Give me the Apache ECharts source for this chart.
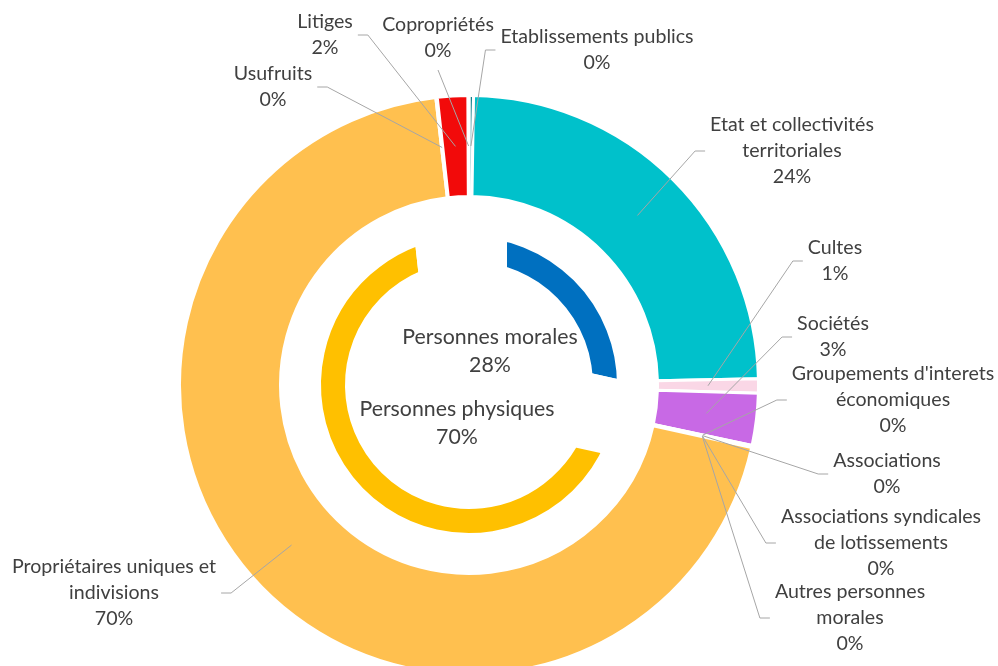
<!DOCTYPE html>
<html>
<head>
<meta charset="utf-8">
<script src="https://cdn.jsdelivr.net/npm/echarts@6/dist/echarts.min.js"></script>
<style>
  html, body { margin: 0; padding: 0; background: #fff; }
  #chart-container { width: 998px; height: 666px; }
</style>
</head>
<body>
<div id="chart-container"></div>
<script>
// outer ring: detail of owners (share in %)
var categories = [
  'Etablissements publics',
  'Etat et collectivités\nterritoriales',
  'Cultes',
  'Sociétés',
  "Groupements d'interets\néconomiques",
  'Associations',
  'Associations syndicales\nde lotissements',
  'Autres personnes\nmorales',
  'Propriétaires uniques et\nindivisions',
  'Usufruits',
  'Litiges',
  'Copropriétés'
];
var shares = [0.25, 24.4, 0.8, 2.9, 0.03, 0.03, 0.03, 0.03, 69.7, 0.08, 1.7, 0.05];

// inner ring: groups
var groups = ['Personnes morales', 'Personnes physiques', 'Autres'];
var groupShares = [28.47, 69.78, 1.75];

var sliceColors = ['#127F8A', '#00C1CB', '#FAD7E6', '#C869E5', '#8FAADC', '#A9D18E',
  '#F4B183', '#BDD7EE', '#FFC04F', '#C9C9C9', '#F20A0A', '#D9D9D9'];
var groupColors = ['#0070C0', '#FFC000', 'rgba(0,0,0,0)'];

var center = [469, 385];
// label block centres and which side the leader line attaches to
var labelSpots = [
  [597, 50, 'left'], [792, 151, 'left'], [835, 261, 'left'], [833, 337, 'left'],
  [893, 400, 'left'], [887, 474, 'left'], [881, 543, 'left'], [850, 618, 'left'],
  [114, 593, 'right'], [273, 87, 'right'], [325, 35, 'right'], [438, 38, 'bottom']
];
var groupLabelSpots = [[490, 351], [457, 423]];

var dom = document.getElementById('chart-container');
var myChart = echarts.init(dom, null, { renderer: 'canvas' });

function midPoint(i, r) {
  var total = 0, before = 0;
  shares.forEach(function (v, k) {
    total += v;
    if (k < i) before += v;
  });
  var ang = (before + shares[i] / 2) / total * 2 * Math.PI;
  return [center[0] + r * Math.sin(ang), center[1] - r * Math.cos(ang)];
}

var outerData = categories.map(function (c, i) {
  return { name: c, value: shares[i], itemStyle: { color: sliceColors[i] } };
});

var option = {
  animation: false,
  textStyle: { fontFamily: 'Lato' },
  series: [
    {
      type: 'pie',
      z: 1,
      silent: true,
      center: center,
      radius: [86, 186],
      startAngle: 90,
      percentPrecision: 0,
      avoidLabelOverlap: false,
      itemStyle: { borderColor: '#fff', borderWidth: 76 },
      label: {
        position: 'inside',
        formatter: '{b}\n{d}%',
        color: '#404040',
        fontSize: 21.3,
        lineHeight: 28,
        fontFamily: 'Lato'
      },
      labelLine: { show: false },
      labelLayout: function (params) {
        var spot = groupLabelSpots[params.dataIndex];
        if (!spot) return {};
        return { x: spot[0], y: spot[1], align: 'center', verticalAlign: 'middle', hideOverlap: false };
      },
      data: groups.map(function (g, i) {
        return {
          name: g,
          value: groupShares[i],
          itemStyle: { color: groupColors[i] },
          label: { show: i < 2 }
        };
      })
    },
    {
      // visible outer ring
      type: 'pie',
      z: 2,
      silent: true,
      center: center,
      radius: [188.5, 289.5],
      startAngle: 90,
      avoidLabelOverlap: false,
      itemStyle: { borderColor: '#fff', borderWidth: 3 },
      label: { show: false },
      labelLine: { show: false },
      data: outerData
    },
    {
      // same ring, transparent, carries the labels and leader lines on top
      type: 'pie',
      z: 5,
      silent: true,
      center: center,
      radius: [188.5, 289.5],
      startAngle: 90,
      percentPrecision: 0,
      avoidLabelOverlap: false,
      itemStyle: { color: 'rgba(0,0,0,0)', borderWidth: 0 },
      label: {
        formatter: '{b}\n{d}%',
        color: '#404040',
        fontSize: 19.6,
        lineHeight: 26,
        fontFamily: 'Lato',
        padding: [0, 5]
      },
      labelLine: {
        show: true,
        lineStyle: { color: '#A6A6A6', width: 1 }
      },
      labelLayout: function (params) {
        var spot = labelSpots[params.dataIndex];
        var w = params.labelRect.width, h = params.labelRect.height;
        var a = midPoint(params.dataIndex, 239);
        var pts;
        if (spot[2] === 'left') {
          var lx = spot[0] - w / 2;
          pts = [a, [lx - 10, spot[1]], [lx, spot[1]]];
        } else if (spot[2] === 'right') {
          var rx = spot[0] + w / 2;
          pts = [a, [rx + 10, spot[1]], [rx, spot[1]]];
        } else {
          var by = spot[1] + h / 2 + 6;
          pts = [a, [spot[0], by], [spot[0], by]];
        }
        return {
          x: spot[0], y: spot[1], align: 'center', verticalAlign: 'middle',
          hideOverlap: false, labelLinePoints: pts
        };
      },
      data: categories.map(function (c, i) {
        return { name: c, value: shares[i] };
      })
    }
  ]
};

if (option && typeof option === 'object') {
  myChart.setOption(option);
}

window.addEventListener('resize', myChart.resize);
</script>
</body>
</html>
